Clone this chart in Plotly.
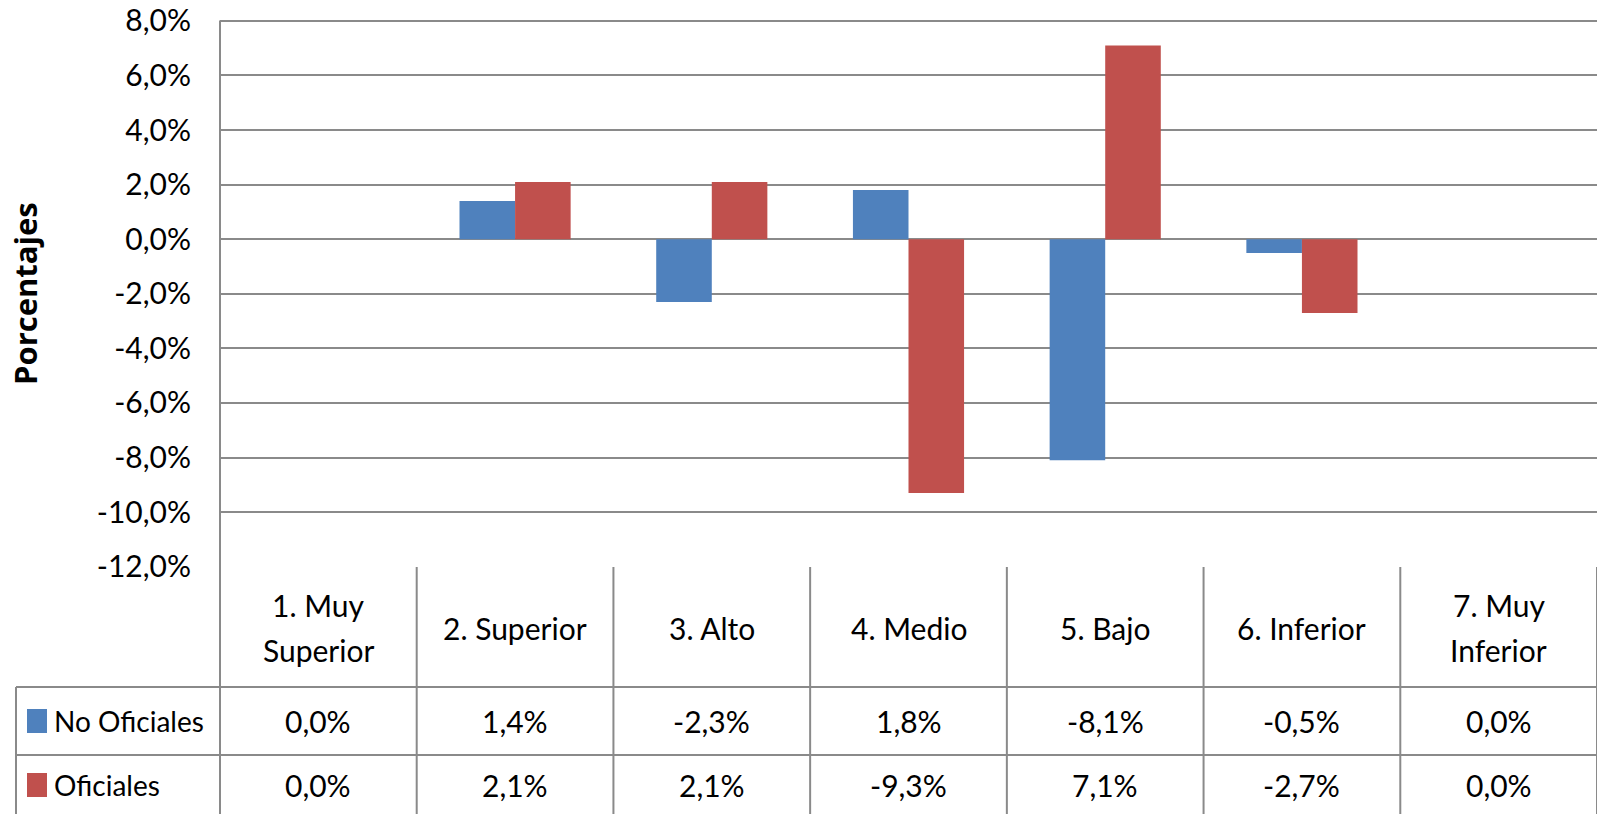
import plotly.graph_objects as go

# datos
categorias = ["1. Muy<br>Superior", "2. Superior", "3. Alto", "4. Medio",
              "5. Bajo", "6. Inferior", "7. Muy<br>Inferior"]
no_oficiales = [0.0, 1.4, -2.3, 1.8, -8.1, -0.5, 0.0]
oficiales = [0.0, 2.1, 2.1, -9.3, 7.1, -2.7, 0.0]
ticks_y = [8, 6, 4, 2, 0, -2, -4, -6, -8, -10, -12]
series = [("No Oficiales", no_oficiales, "#4F81BD"),
          ("Oficiales", oficiales, "#C0504D")]


def pct(v):
    return f"{v:.1f}%".replace(".", ",")


FONT = "Lato, sans-serif"
GRIS = "#8a8a8a"
TAM = 30

W, H = 1599, 814
L, R, T, B = 220, 2, 16, 247
PH = H - T - B
PW = W - L - R


def py(p):   # pixel vertical de la página -> paper
    return (H - B - p) / PH


def px(p):   # pixel horizontal -> paper
    return (p - L) / PW


fig = go.Figure()
for nombre, vals, color in series:
    fig.add_trace(go.Bar(
        x=categorias, y=[v / 100 for v in vals], name=nombre,
        marker=dict(color=color, line=dict(width=0)),
    ))

# filas de la tabla
y_top = 0.0
y_head = py(687)
y_r1 = py(755)
y_r2 = py(830)
x_leg = px(16)

shapes = []
line = dict(color=GRIS, width=2)
shapes.append(dict(type="line", xref="paper", yref="paper", x0=0, x1=0,
                   y0=py(20.5), y1=y_r2, line=line))
for i in range(len(categorias)):
    shapes.append(dict(type="line", xref="x", yref="paper", x0=i + 0.5, x1=i + 0.5,
                       y0=y_top, y1=y_r2, line=line))
for yy in (y_head, y_r1):
    shapes.append(dict(type="line", xref="paper", yref="paper", x0=x_leg, x1=1,
                       y0=yy, y1=yy, line=line))
shapes.append(dict(type="line", xref="paper", yref="paper", x0=x_leg, x1=x_leg,
                   y0=y_head, y1=y_r2, line=line))

annotations = []
for c in categorias:
    partes = c.split("<br>")
    ys = [py(628)] if len(partes) == 1 else [py(605), py(650)]
    for t, yy in zip(partes, ys):
        annotations.append(dict(x=c, xref="x", y=yy, yref="paper",
                                text=t, showarrow=False, yanchor="middle",
                                font=dict(family=FONT, size=TAM, color="black")))

filas = [py(721), py(785)]
for (nombre, vals, color), yc in zip(series, filas):
    for c, v in zip(categorias, vals):
        annotations.append(dict(x=c, xref="x", y=yc, yref="paper",
                                text=pct(v), showarrow=False, yanchor="middle",
                                font=dict(family=FONT, size=TAM, color="black")))
    annotations.append(dict(x=px(52), xref="paper", y=yc, yref="paper",
                            text=nombre, showarrow=False, xanchor="left",
                            yanchor="middle",
                            font=dict(family=FONT, size=28, color="black")))
    shapes.append(dict(type="rect", xref="paper", yref="paper",
                       x0=px(27), x1=px(47), y0=yc - 12 / PH, y1=yc + 12 / PH,
                       fillcolor=color, line=dict(width=0)))

annotations.append(dict(x=px(25), xref="paper", y=py(294), yref="paper",
                        xanchor="center", yanchor="middle",
                        text="<b>Porcentajes</b>", textangle=-90, showarrow=False,
                        font=dict(family="Open Sans, sans-serif", size=31,
                                  color="black")))

fig.update_layout(
    width=W, height=H,
    margin=dict(l=L, r=R, t=T, b=B),
    paper_bgcolor="white", plot_bgcolor="white",
    barmode="group", bargap=0.435, bargroupgap=0,
    showlegend=False,
    xaxis=dict(showticklabels=False, showgrid=False, range=[-0.5, 6.5],
               zeroline=False),
    yaxis=dict(range=[-0.1201, 0.0818],
               tickvals=[t / 100 for t in ticks_y],
               ticktext=[pct(t) for t in ticks_y],
               showgrid=True, gridcolor=GRIS, gridwidth=2, zeroline=False,
               ticks="", ticklabelstandoff=28,
               tickfont=dict(family=FONT, size=TAM, color="black")),
    shapes=shapes,
    annotations=annotations,
)

fig.write_html("out.html", config={"displayModeBar": False},
               post_script="document.body.style.margin='0';")
